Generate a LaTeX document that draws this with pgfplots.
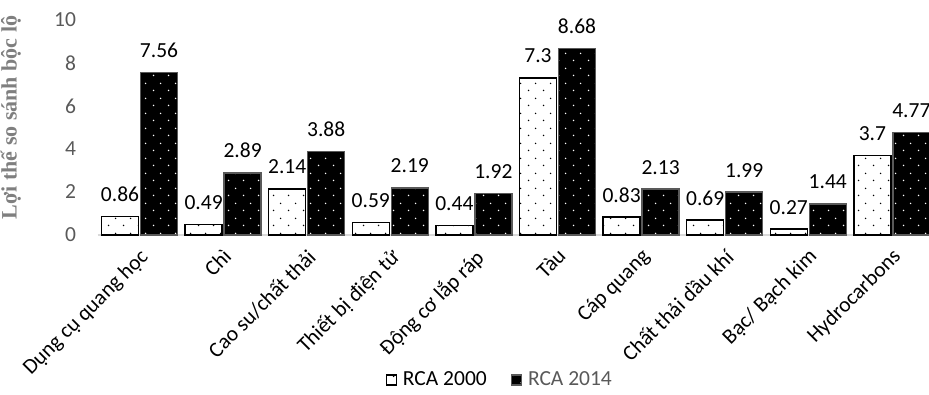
\documentclass[border=0pt]{standalone}
\usepackage{pgfplots}
\pgfplotsset{compat=1.18}
\usetikzlibrary{patterns.meta}
\usepackage{fontspec}
\setmainfont{Carlito}
\newfontfamily\labelserif{Liberation Serif}

\definecolor{ticktext}{HTML}{595959}
\definecolor{axisgray}{HTML}{D9D9D9}
\definecolor{ylabgray}{HTML}{7F7F7F}
\definecolor{edge2014}{HTML}{595959}

% staggered dot grid used on both series
\pgfdeclarepattern{
  name=sparsedots,
  type=uncolored,
  bottom left={\pgfpoint{0pt}{0pt}},
  top right={\pgfpoint{15pt}{15pt}},
  tile size={\pgfpoint{15pt}{15pt}},
  code={
    \pgfpathcircle{\pgfpoint{3.75pt}{3.75pt}}{0.85pt}
    \pgfpathcircle{\pgfpoint{11.25pt}{11.25pt}}{0.85pt}
    \pgfusepath{fill}
  }
}

\pgfplotstableread{
idx rca2000 rca2014
0 0.86 7.56
1 0.49 2.89
2 2.14 3.88
3 0.59 2.19
4 0.44 1.92
5 7.30 8.68
6 0.83 2.13
7 0.69 1.99
8 0.27 1.44
9 3.70 4.77
}\rcadata

\newcommand{\chartfont}{\fontsize{21.5}{25}\selectfont}

\begin{document}
\begin{tikzpicture}
\chartfont
\begin{axis}[
  scale only axis,
  width=836pt, height=215pt,
  ybar, bar width=37pt,
  xmin=-0.5, xmax=9.5,
  ymin=0, ymax=10,
  ytick={0,2,...,10},
  xtick=data,
  xticklabels={Dụng cụ quang học, Chì, Cao su/chất thải, Thiết bị điện tử, Động cơ lắp ráp, Tàu, Cáp quang, Chất thải dầu khí, Bạc/ Bạch kim, Hydrocarbons},
  axis lines*=left,
  y axis line style={draw=none},
  x axis line style={draw=axisgray, line width=2pt},
  major tick length=0pt,
  tick style={draw=none},
  /pgf/number format/assume math mode=true,
  tick label style={font=\chartfont},
  yticklabel style={text=ticktext, inner xsep=0pt, xshift=-21.5pt},
  xticklabel style={text=black, inner sep=0pt, xshift=-1pt, yshift=-12pt, rotate=45, anchor=north east},
  ylabel={\labelserif\bfseries Lợi thế so sánh bộc lộ},
  every axis y label/.style={at={(axis description cs:-0.097,0.5465)}, rotate=90, anchor=base, text=ylabgray, font=\fontsize{22}{25}\selectfont},
  nodes near coords,
  every node near coord/.append style={font=\chartfont, text=black, yshift=7pt},
  legend columns=2,
  legend style={draw=none, fill=none, at={(axis description cs:0.481,-0.674)}, anchor=center,
    font=\chartfont,
    /tikz/every odd column/.append style={column sep=4pt},
    /tikz/every even column/.append style={column sep=22pt}},
  legend image code/.code={\draw[#1, line width=1.2pt] (0pt,-5pt) rectangle (10pt,5pt);},
]
\addplot[draw=black, line width=1.5pt, fill=white, postaction={pattern=sparsedots, pattern color=black}]
  table[x=idx, y=rca2000] {\rcadata};
\addplot[draw=edge2014, line width=1.5pt, fill=black, postaction={pattern=sparsedots, pattern color=white}]
  table[x=idx, y=rca2014] {\rcadata};
\addlegendentry{RCA 2000}
\addlegendentry{\textcolor{ticktext}{RCA 2014}}
\end{axis}
\pgfresetboundingbox
\path[use as bounding box] (-97.7pt,-159pt) rectangle (831.3pt,235pt);
\end{tikzpicture}
\end{document}
